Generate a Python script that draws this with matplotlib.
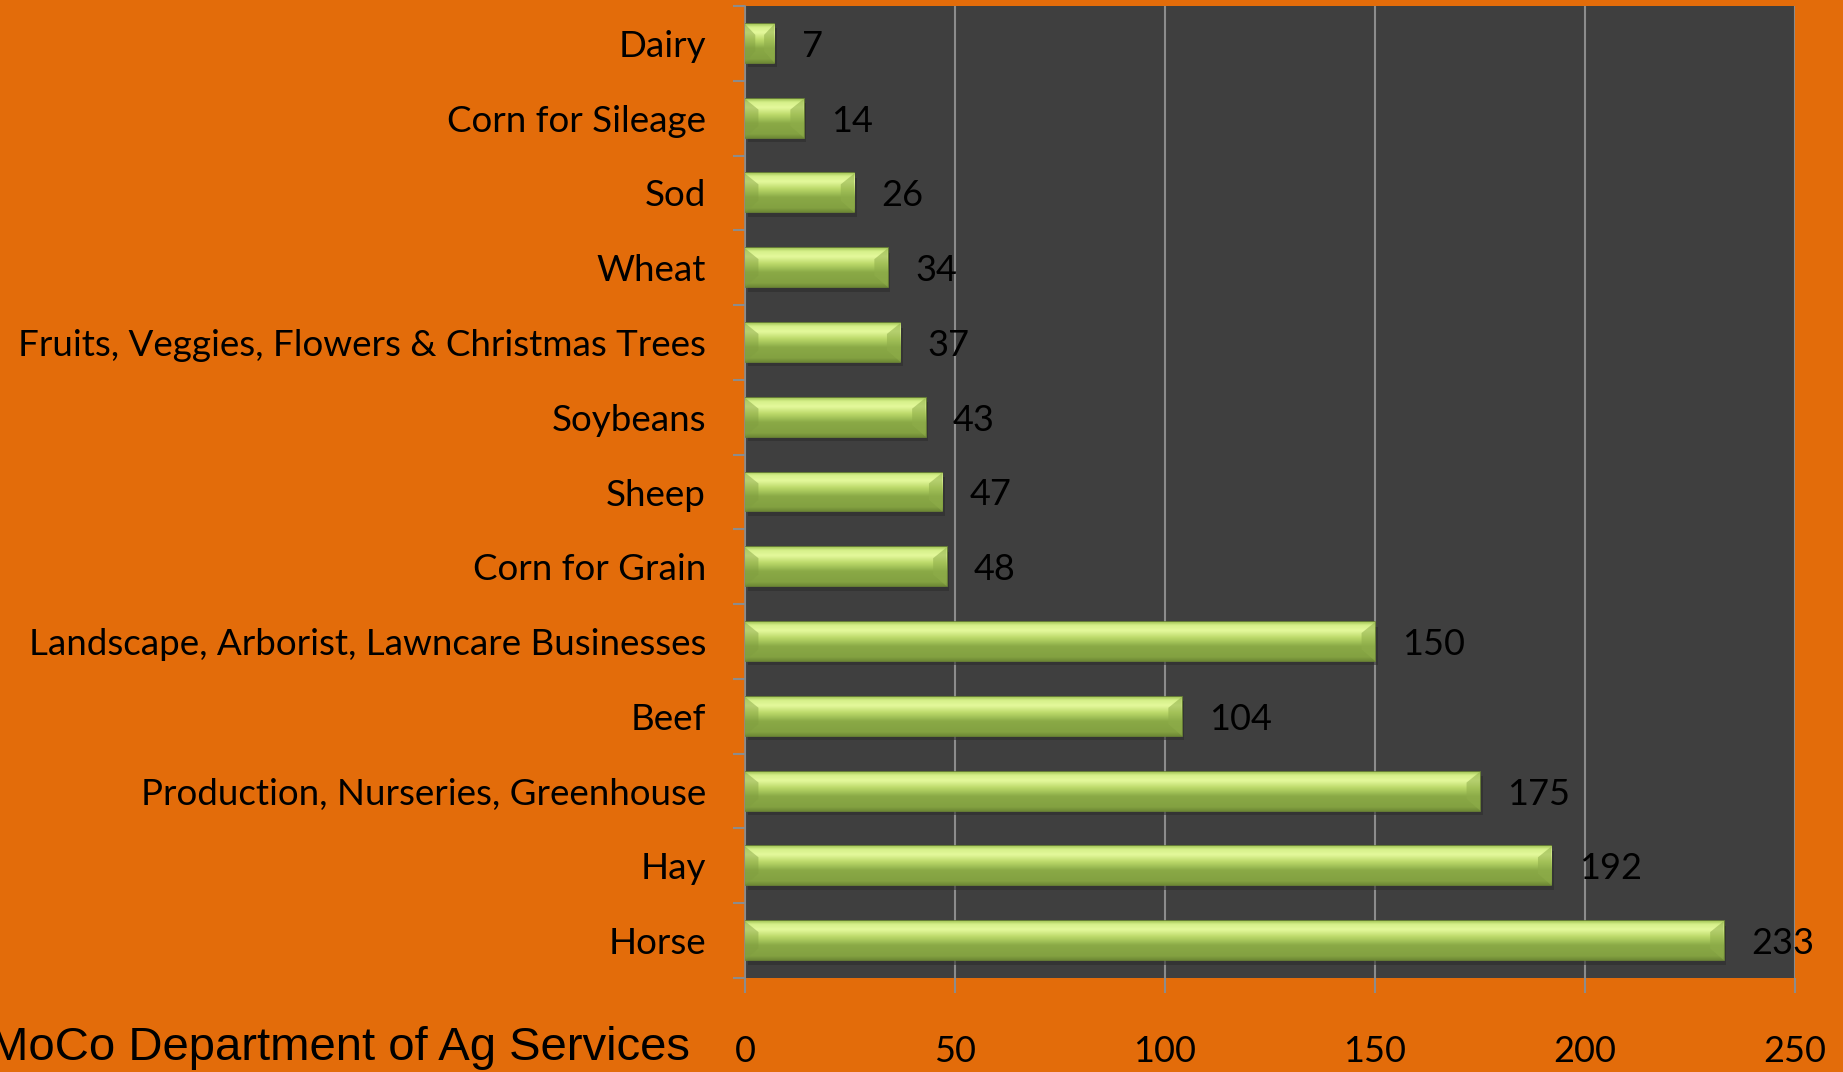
import matplotlib.pyplot as plt
import numpy as np
from matplotlib.colors import LinearSegmentedColormap

categories = ['Dairy', 'Corn for Sileage', 'Sod', 'Wheat',
              'Fruits, Veggies, Flowers & Christmas Trees', 'Soybeans', 'Sheep',
              'Corn for Grain', 'Landscape, Arborist, Lawncare Businesses', 'Beef',
              'Production, Nurseries, Greenhouse', 'Hay', 'Horse']
counts = [7, 14, 26, 34, 37, 43, 47, 48, 150, 104, 175, 192, 233]
xticks = [0, 50, 100, 150, 200, 250]

ORANGE = '#e36c0a'
PLOT_BG = '#3f3f3f'
GRID = '#8c8c8c'
label_font = ['Lato', 'DejaVu Sans']

plt.rcParams['font.family'] = label_font

fig = plt.figure(figsize=(18.43, 10.72), dpi=100, facecolor=ORANGE)
ax = fig.add_axes([745 / 1843, 94 / 1072, 1050 / 1843, 972 / 1072])
ax.set_facecolor(PLOT_BG)

n = len(categories)
ypos = np.arange(n)[::-1]
bar_h = 0.52

# soft drop shadow under each bar
ax.barh(ypos - 0.06, counts, height=bar_h, left=0.6, color='#2b2b2b',
        alpha=0.55, zorder=2, linewidth=0)
bars = ax.barh(ypos, counts, height=bar_h, color='#98b852',
               edgecolor='#6f8a36', linewidth=1.2, zorder=3)

# bevelled green look: vertical gradient clipped to each bar
bevel = LinearSegmentedColormap.from_list('bevel', [
    (0.00, '#a7c95a'), (0.08, '#d6f08a'), (0.22, '#e4f99c'),
    (0.40, '#bcd96a'), (0.52, '#a1c158'), (0.62, '#8aa946'),
    (0.90, '#83a141'), (1.00, '#6d8835')])
grad = np.linspace(0, 1, 256).reshape(-1, 1)
for b in bars:
    x0, y0, w, h = b.get_x(), b.get_y(), b.get_width(), b.get_height()
    im = ax.imshow(grad, cmap=bevel, aspect='auto', origin='upper',
                   extent=(x0, x0 + w, y0, y0 + h), zorder=4,
                   interpolation='bicubic')
    im.set_clip_path(b)
    # end faces of the bevel
    ew = min(3.2, w * 0.35)
    ax.fill([x0 + w - ew, x0 + w, x0 + w, x0 + w - ew],
            [y0 + h * 0.72, y0 + h, y0, y0 + h * 0.3],
            color='#8fae4a', alpha=0.55, zorder=5, linewidth=0)
    ax.fill([x0, x0 + ew, x0 + ew, x0],
            [y0 + h, y0 + h * 0.72, y0 + h * 0.3, y0],
            color='#7f9d3f', alpha=0.45, zorder=5, linewidth=0)
    ax.text(x0 + w + 6.5, y0 + h / 2 - 0.04, str(int(w)), va='center',
            ha='left', fontsize=26, color='black', zorder=6)

ax.set_xlim(0, 250)
ax.set_ylim(-0.5, n - 0.5)
ax.set_xticks(xticks)
ax.set_xticklabels([str(t) for t in xticks])
ax.set_yticks(ypos)
ax.set_yticklabels(categories)
ax.set_yticks(np.arange(n + 1) - 0.5, minor=True)

ax.xaxis.grid(True, color=GRID, linewidth=1.5, zorder=1)
ax.set_axisbelow(True)
for s in ['top', 'right', 'bottom']:
    ax.spines[s].set_visible(False)
ax.spines['left'].set_color(GRID)
ax.spines['left'].set_linewidth(1.2)

ax.tick_params(axis='x', length=11, width=1.5, color=GRID, pad=30,
               labelsize=26, labelcolor='black')
ax.tick_params(axis='y', which='major', length=0, pad=28,
               labelsize=26.5, labelcolor='black')
ax.tick_params(axis='y', which='minor', length=9, width=1.5, color=GRID)

fig.text(-0.006, 0.011, 'MoCo Department of Ag Services', ha='left',
         va='baseline', fontsize=34, color='black',
         family=['Liberation Sans', 'DejaVu Sans'])

fig.savefig('out.png', dpi=100, facecolor=ORANGE)
